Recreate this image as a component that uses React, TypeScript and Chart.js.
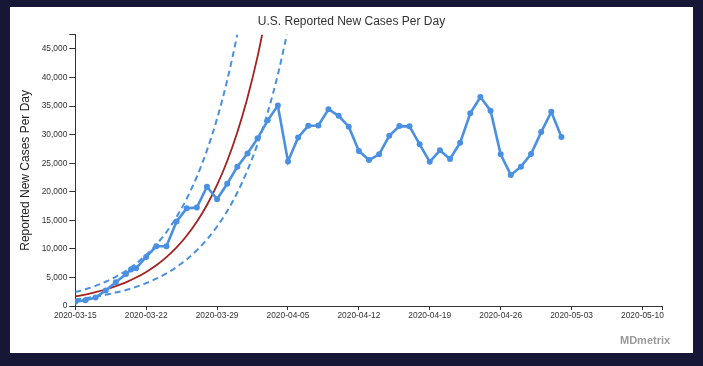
import React, { useEffect, useRef } from 'react';
import { Chart, registerables } from 'chart.js';

Chart.register(...registerables);

// Reported daily cases: day offset from 2020-03-15 and value
const caseDays = [0, 1, 2, 3, 4, 5, 5.5, 6, 7, 8, 9, 10, 11, 12, 13, 14, 15, 16, 17, 18, 19, 20, 21, 22, 23, 24, 25, 26, 27, 28, 29, 30, 31, 32, 33, 34, 35, 36, 37, 38, 39, 40, 41, 42, 43, 44, 45, 46, 47, 48];
const caseValues = [750, 1000, 1500, 2700, 4150, 5600, 6400, 6600, 8600, 10450, 10450, 14800, 17100, 17250, 20900, 18700, 21400, 24400, 26700, 29350, 32500, 35100, 25300, 29500, 31550, 31600, 34450, 33300, 31400, 27150, 25550, 26550, 29800, 31500, 31450, 28300, 25250, 27250, 25750, 28600, 33750, 36600, 34200, 26550, 22950, 24400, 26600, 30450, 34000, 29600];

// Exponential fit and its dashed bounds
const fitDays = [0, 1, 2, 3, 4, 5, 6, 7, 8, 9, 10, 11, 12, 13, 14, 15, 16, 17, 18, 19, 20, 21];
const fitCenter = [1680, 2010, 2410, 2890, 3470, 4150, 4980, 5970, 7150, 8570, 10270, 12310, 14750, 17680, 21190, 25390, 30430, 36470, 43710, 52380];
const fitUpper = [2430, 2930, 3530, 4250, 5110, 6160, 7420, 8930, 10760, 12950, 15600, 18790, 22630, 27250, 32820, 39520, 47600, 57330];
const fitLower = [1150, 1370, 1640, 1960, 2350, 2800, 3350, 4000, 4780, 5710, 6830, 8160, 9750, 11650, 13920, 16630, 19870, 23750, 28380, 33910, 40520, 48420];

// Axis ticks
const xTickDays = [0, 7, 14, 21, 28, 35, 42, 49, 56];
const xTickLabels = ['2020-03-15', '2020-03-22', '2020-03-29', '2020-04-05', '2020-04-12', '2020-04-19', '2020-04-26', '2020-05-03', '2020-05-10'];
const xMax = 58;
const yTickValues = [0, 5000, 10000, 15000, 20000, 25000, 30000, 35000, 40000, 45000];
const yMax = 47500;

const FONT = "'Liberation Sans', Arial, Helvetica, sans-serif";
const BLUE = '#4a90e2';
const RED = '#a3221f';
const AXIS = '#333333';

const panelPlugin = {
  id: 'panelBg',
  beforeDraw(chart: any) {
    const { ctx, width, height } = chart;
    ctx.save();
    ctx.fillStyle = '#161637';
    ctx.fillRect(0, 0, width, height);
    ctx.fillStyle = '#ffffff';
    ctx.fillRect(10, 7, 683, 346);
    ctx.restore();
  },
};

function toPoints(xs: number[], ys: number[]) {
  return ys.map((y, i) => ({ x: xs[i], y }));
}

export default function App() {
  const ref = useRef<HTMLCanvasElement | null>(null);

  useEffect(() => {
    if (!ref.current) return;
    const chart = new Chart(ref.current, {
      type: 'line',
      data: {
        datasets: [
          {
            label: 'Reported',
            data: toPoints(caseDays, caseValues),
            borderColor: BLUE,
            backgroundColor: BLUE,
            borderWidth: 2.6,
            pointRadius: 3,
            pointBorderWidth: 0,
            pointBackgroundColor: BLUE,
            tension: 0,
          },
          {
            label: 'Fit',
            data: toPoints(fitDays, fitCenter),
            borderColor: RED,
            borderWidth: 1.8,
            pointRadius: 0,
            cubicInterpolationMode: 'monotone',
          },
          {
            label: 'Upper',
            data: toPoints(fitDays, fitUpper),
            borderColor: BLUE,
            borderWidth: 2,
            borderDash: [6, 4],
            pointRadius: 0,
            cubicInterpolationMode: 'monotone',
          },
          {
            label: 'Lower',
            data: toPoints(fitDays, fitLower),
            borderColor: BLUE,
            borderWidth: 2,
            borderDash: [6, 4],
            pointRadius: 0,
            cubicInterpolationMode: 'monotone',
          },
        ],
      },
      options: {
        responsive: false,
        animation: false,
        layout: { padding: { left: 10, right: 10, top: 7, bottom: 13 } },
        plugins: {
          legend: { display: false },
          tooltip: { enabled: false },
          title: {
            display: true,
            text: 'U.S. Reported New Cases Per Day',
            color: '#333333',
            font: { family: FONT, size: 12, weight: 'normal' },
            padding: { top: 7, bottom: 6.3 },
          },
        },
        scales: {
          x: {
            type: 'linear',
            min: 0,
            max: xMax,
            afterBuildTicks: (scale: any) => {
              scale.ticks = [...xTickDays.map((v) => ({ value: v })), { value: xMax }];
            },
            afterFit: (scale: any) => {
              scale.height = 47;
              scale.paddingRight = 40.3;
            },
            ticks: {
              autoSkip: false,
              maxRotation: 0,
              minRotation: 0,
              padding: 1,
              color: '#333333',
              font: { family: FONT, size: 8.4 },
              callback: (value: any) => {
                const i = xTickDays.indexOf(Number(value));
                return i >= 0 ? xTickLabels[i] : '';
              },
            },
            grid: { display: true, drawOnChartArea: false, drawTicks: true, tickLength: 4, color: AXIS, lineWidth: 1 },
            border: { display: true, color: AXIS, width: 1 },
          },
          y: {
            type: 'linear',
            min: 0,
            max: yMax,
            afterBuildTicks: (scale: any) => {
              scale.ticks = [...yTickValues.map((v) => ({ value: v })), { value: yMax }];
            },
            afterFit: (scale: any) => {
              scale.width = 65.3;
            },
            ticks: {
              autoSkip: false,
              padding: 2,
              color: '#333333',
              font: { family: FONT, size: 8.4 },
              callback: (value: any) => {
                const v = Number(value);
                return yTickValues.indexOf(v) >= 0 ? v.toLocaleString('en-US') : '';
              },
            },
            grid: { display: true, drawOnChartArea: false, drawTicks: true, tickLength: 6, color: AXIS, lineWidth: 1 },
            border: { display: true, color: AXIS, width: 1 },
            title: {
              display: true,
              text: 'Reported New Cases Per Day',
              color: '#222222',
              font: { family: FONT, size: 12 },
              padding: { top: 8, bottom: 0 },
            },
          },
        },
      },
      plugins: [panelPlugin],
    } as any);
    return () => chart.destroy();
  }, []);

  return (
    <div style={{ position: 'fixed', left: 0, top: 0, width: 703, height: 366 }}>
      <canvas ref={ref} width={703} height={366} style={{ display: 'block' }} />
      <span
        style={{
          position: 'absolute',
          left: 620,
          top: 333,
          fontFamily: FONT,
          fontWeight: 'bold',
          fontSize: 11,
          color: '#9a9a9a',
          lineHeight: '14px',
        }}
      >
        MDmetrix
      </span>
    </div>
  );
}
